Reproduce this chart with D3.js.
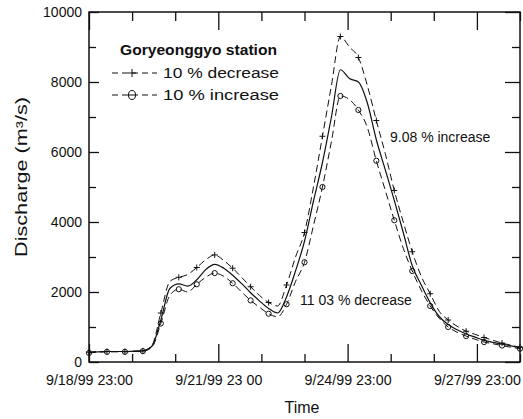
<!DOCTYPE html>
<html>
<head>
<meta charset="utf-8">
<script src="https://cdn.jsdelivr.net/npm/d3@7"></script>
<style>
  html, body { margin: 0; padding: 0; background: #fff; }
  svg text { font-family: "Liberation Sans", Arial, sans-serif; fill: #111; }
</style>
</head>
<body>
<svg id="chart" width="523" height="419"></svg>
<script>
// ---- data (hours after 9/18/99 23:00) ----
const hours = [0,5,10,15,20,25,30,35,40,45,50,55,60,65,70,75,80,85,90,95,100,105,110,115,120,125,130,135,140,145,150,155,160,165,170,175,180,185,190,195,200,205,210,215,220,225,230,235,240];
const baseFlow = [270,290,300,300,300,310,320,450,1200,2100,2230,2170,2350,2640,2790,2680,2480,2240,1980,1740,1530,1400,1860,2600,3450,4600,5700,7000,8350,8100,8000,7400,6350,5490,4620,3700,2750,2200,1690,1300,1070,920,800,710,620,560,510,460,400];
const decFlow  = [280,300,300,300,300,310,320,470,1400,2300,2420,2500,2700,2920,3060,2900,2680,2420,2150,1900,1700,1600,2200,3000,3700,5000,6450,7900,9300,9000,8700,7900,6900,5950,4900,4000,3150,2450,1950,1450,1200,1020,880,790,700,620,540,480,420];
const incFlow  = [260,280,290,290,290,300,310,420,1100,1900,2080,2000,2220,2420,2540,2450,2250,2000,1760,1560,1380,1290,1650,2300,2850,3900,5000,6300,7600,7500,7200,6700,5750,4900,4050,3250,2600,2050,1600,1250,1000,850,740,650,570,520,470,420,380];

const xMajorTicks = [0,72,144,216];
const xMajorLabels = ["9/18/99 23:00","9/21/99 23 00","9/24/99 23:00","9/27/99 23:00"];
const xMinorTicks = [24,48,96,120,168,192,240];
const yMajorTicks = [0,2000,4000,6000,8000,10000];
const yMinorTicks = [1000,3000,5000,7000,9000];

const legendTitle = "Goryeonggyo station";
const legendLabels = ["10 % decrease","10 % increase"];
const annotations = ["9.08 % increase", "11 03 % decrease"];

// ---- layout ----
const svg = d3.select("#chart");
const L = 89, R = 520, T = 12, B = 362;
const x = d3.scaleLinear().domain([0,240]).range([L,R]);
const y = d3.scaleLinear().domain([0,10000]).range([B,T]);

// frame
svg.append("rect").attr("x",L).attr("y",T).attr("width",R-L).attr("height",B-T)
  .attr("fill","none").attr("stroke","#111").attr("stroke-width",1.5);

function styleAxis(g){ g.select(".domain").remove(); g.selectAll(".tick line").attr("stroke","#111").attr("stroke-width",1.3); }

// bottom axis
svg.append("g").attr("transform",`translate(0,${B})`)
  .call(d3.axisBottom(x).tickValues(xMinorTicks).tickSize(-8).tickFormat("")).call(styleAxis);
const bx = svg.append("g").attr("transform",`translate(0,${B})`)
  .call(d3.axisBottom(x).tickValues(xMajorTicks).tickSize(-18).tickPadding(13)
    .tickFormat((d,i)=>xMajorLabels[i])).call(styleAxis);
bx.selectAll("text").attr("font-size",14).attr("fill","#111")
  .attr("textLength",87).attr("lengthAdjust","spacingAndGlyphs");
// top axis
svg.append("g").attr("transform",`translate(0,${T})`)
  .call(d3.axisTop(x).tickValues(xMinorTicks).tickSize(-9).tickFormat("")).call(styleAxis);
svg.append("g").attr("transform",`translate(0,${T})`)
  .call(d3.axisTop(x).tickValues(xMajorTicks).tickSize(-18).tickFormat("")).call(styleAxis);
// left axis
const ly = svg.append("g").attr("transform",`translate(${L},0)`)
  .call(d3.axisLeft(y).tickValues(yMajorTicks).tickSize(-10).tickPadding(7).tickFormat(d3.format("d"))).call(styleAxis);
ly.selectAll("text").attr("font-size",14).attr("fill","#111");
svg.append("g").attr("transform",`translate(${L},0)`)
  .call(d3.axisLeft(y).tickValues(yMinorTicks).tickSize(-7).tickFormat("")).call(styleAxis);
// right axis
svg.append("g").attr("transform",`translate(${R},0)`)
  .call(d3.axisRight(y).tickValues(yMajorTicks).tickSize(-15).tickFormat("")).call(styleAxis);
svg.append("g").attr("transform",`translate(${R},0)`)
  .call(d3.axisRight(y).tickValues(yMinorTicks).tickSize(-8).tickFormat("")).call(styleAxis);

// axis titles
svg.append("text").attr("x",302).attr("y",413).attr("text-anchor","middle")
  .attr("font-size",16).text("Time");
svg.append("text").attr("transform","translate(27,177) rotate(-90)").attr("text-anchor","middle")
  .attr("font-size",16).attr("textLength",160).attr("lengthAdjust","spacingAndGlyphs")
  .text("Discharge (m³/s)");

// lines
const line = v => d3.line().x((d,i)=>x(hours[i])).y(d=>y(d)).curve(d3.curveMonotoneX)(v);
const g = svg.append("g");
g.append("path").attr("d",line(decFlow)).attr("fill","none").attr("stroke","#111")
  .attr("stroke-width",1).attr("stroke-dasharray","7,4");
g.append("path").attr("d",line(incFlow)).attr("fill","none").attr("stroke","#111")
  .attr("stroke-width",1).attr("stroke-dasharray","7,4");
g.append("path").attr("d",line(baseFlow)).attr("fill","none").attr("stroke","#111")
  .attr("stroke-width",1.2);

// markers
const markIdx = hours.map((h,i)=>i).filter(i=>i%2===0);
function plus(sel, cx, cy, s){
  sel.append("path").attr("d",`M${cx-s},${cy}H${cx+s}M${cx},${cy-s}V${cy+s}`)
    .attr("stroke","#111").attr("stroke-width",1).attr("fill","none");
}
markIdx.forEach(i=>{
  plus(g, x(hours[i]), y(decFlow[i]), 3);
  g.append("circle").attr("cx",x(hours[i])).attr("cy",y(incFlow[i])).attr("r",2.6)
    .attr("fill","none").attr("stroke","#111").attr("stroke-width",1);
});

// legend
svg.append("text").attr("x",120).attr("y",55).attr("font-size",15).attr("font-weight","bold")
  .attr("textLength",157).attr("lengthAdjust","spacingAndGlyphs").text(legendTitle);
const rowsY = [73, 95];
rowsY.forEach((ry,k)=>{
  svg.append("line").attr("x1",112).attr("x2",157).attr("y1",ry).attr("y2",ry)
    .attr("stroke","#111").attr("stroke-width",1).attr("stroke-dasharray","6,4");
  if(k===0) plus(svg, 132, ry, 4);
  else {
    svg.append("ellipse").attr("cx",132).attr("cy",ry).attr("rx",3.5).attr("ry",4.5)
      .attr("fill","#fff").attr("stroke","#111").attr("stroke-width",1);
    svg.append("line").attr("x1",128.5).attr("x2",135.5).attr("y1",ry).attr("y2",ry).attr("stroke","#111");
  }
  svg.append("text").attr("x",163).attr("y",ry+5).attr("font-size",14)
    .attr("textLength",116).attr("lengthAdjust","spacingAndGlyphs").text(legendLabels[k]);
});

// annotations
svg.append("text").attr("x",390).attr("y",142).attr("font-size",14).text(annotations[0]);
svg.append("text").attr("x",300).attr("y",305).attr("font-size",14).text(annotations[1]);
</script>
</body>
</html>
